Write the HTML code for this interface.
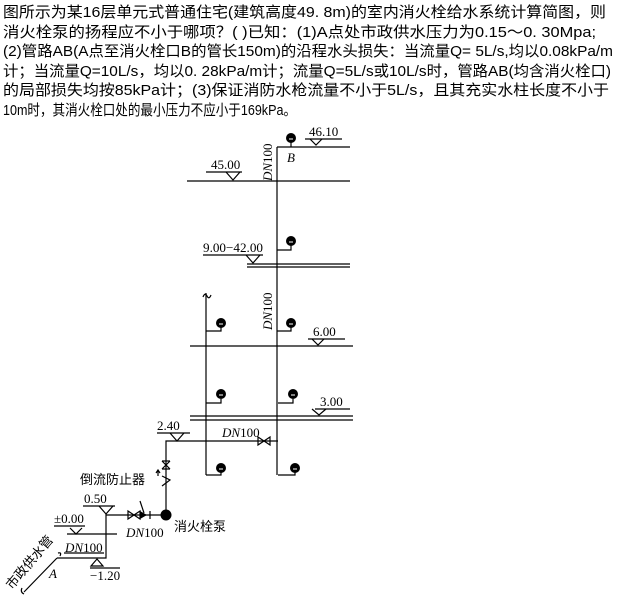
<!DOCTYPE html>
<html><head><meta charset="utf-8"><style>
html,body{margin:0;padding:0;background:#fff;}
svg{display:block;}
.t{font-family:"Liberation Sans","Noto Sans CJK SC",sans-serif;font-size:15px;fill:#000;}
.s{font-family:"Liberation Serif","Noto Serif CJK SC",serif;font-size:13px;fill:#000;}
.i{font-style:italic;}
.c{font-family:"Liberation Sans","Noto Sans CJK SC",sans-serif;font-size:13px;fill:#000;}
</style></head><body>
<svg width="619" height="598" viewBox="0 0 619 598" xmlns="http://www.w3.org/2000/svg">
<g class="t">
<text x="3" y="17" textLength="603" lengthAdjust="spacingAndGlyphs">图所示为某16层单元式普通住宅(建筑高度49. 8m)的室内消火栓给水系统计算简图，则</text>
<text x="3" y="37" textLength="593" lengthAdjust="spacingAndGlyphs">消火栓泵的扬程应不小于哪项？(  )已知：(1)A点处市政供水压力为0.15～0. 30Mpa;</text>
<text x="3" y="56" textLength="610" lengthAdjust="spacingAndGlyphs">(2)管路AB(A点至消火栓口B的管长150m)的沿程水头损失：当流量Q= 5L/s,均以0.08kPa/m</text>
<text x="3" y="76" textLength="608" lengthAdjust="spacingAndGlyphs">计；当流量Q=10L/s，均以0. 28kPa/m计；流量Q=5L/s或10L/s时，管路AB(均含消火栓口)</text>
<text x="3" y="95" textLength="606" lengthAdjust="spacingAndGlyphs">的局部损失均按85kPa计；(3)保证消防水枪流量不小于5L/s，且其充实水柱长度不小于</text>
<text x="3" y="115" textLength="293" lengthAdjust="spacingAndGlyphs">10m时，其消火栓口处的最小压力不应小于169kPa。</text>
</g>
<g stroke="#000" stroke-width="1.2" fill="none">
<path d="M277 147V475 M277 147H350"/>
<path d="M206 293V475"/>
<path d="M187 181H350"/>
<path d="M247 264H350 M247 267H350"/>
<path d="M190 346H353"/>
<path d="M190 416H353 M190 420H353"/>
<path d="M291 147V142"/>
<path d="M277 250H291V245"/>
<path d="M206 331H221V327"/>
<path d="M277 331H291V327"/>
<path d="M206 403H221V399"/>
<path d="M278 403H293V399"/>
<path d="M206 475H221V471"/>
<path d="M278 475H295V471"/>
<path d="M305 139H342"/><path d="M310 139L316 145L322 139"/>
<path d="M206 172H242"/><path d="M226 172L233 180L240 172"/>
<path d="M203 255H263"/><path d="M246 255L253 263L260 255"/>
<path d="M308 339H345"/><path d="M312 339L318 345L324 339"/>
<path d="M315 409H350"/><path d="M312 409L319 415L326 409"/>
<path d="M157 433H190"/><path d="M170 433L177 441L184 433"/>
<path d="M166 515V441H278"/>
<path d="M258 437L264 441L258 445Z M270 437L264 441L270 445Z"/>
<path d="M162 461L166 465L170 461 M162 469L166 465L170 469"/>
<path d="M162 461H170 M162 469H170"/>
<path d="M162 476L170 480L162 486"/>
<path d="M158 476V470 M156 473L158 470L160 473"/>
<path d="M106 515H166"/>
<path d="M128 511L134 515L128 519Z M140 511L134 515L140 519Z"/>
<path d="M150 511V519"/>
<path d="M140 501L144 513"/>
<path d="M83 506H115"/><path d="M99 506L106 514L113 506"/>
<path d="M106 514V558H57"/>
<path d="M54 526H85"/><path d="M67 534H117"/><path d="M70 528L76 534L82 528"/>
<path d="M64 553H104"/>
<path d="M90 568H120"/><path d="M91 566L97 559L103 566Z"/>
<path d="M57 558L24 592"/>
<path d="M58 553Q62 552 60 556 M22 588Q20 592 24 594"/>
<path d="M203 297Q205 292 207 296T211 295"/>
</g>
<g fill="#000">
<path d="M140 511L147 515L140 519Z"/>
<circle cx="166" cy="515" r="5.5"/>
<circle cx="291" cy="138" r="5"/>
<circle cx="291" cy="241" r="5"/>
<circle cx="221" cy="323" r="5"/>
<circle cx="291" cy="323" r="5"/>
<circle cx="221" cy="394" r="5"/>
<circle cx="293" cy="394" r="5"/>
<circle cx="221" cy="468" r="5"/>
<circle cx="295" cy="468" r="5"/>
</g>
<g stroke="#fff" stroke-width="1">
<path d="M289 139H293 M289 242H293 M219 324H223 M289 324H293 M219 395H223 M291 395H295 M219 469H223 M293 469H297"/>
</g>
<g class="s">
<text x="309" y="136">46.10</text>
<text x="287" y="162" class="i">B</text>
<text x="211" y="169">45.00</text>
<text x="203" y="252" textLength="60" lengthAdjust="spacingAndGlyphs">9.00−42.00</text>
<text x="313" y="336">6.00</text>
<text x="320" y="406">3.00</text>
<text x="157" y="430">2.40</text>
<text x="222" y="437"><tspan class="i">DN</tspan>100</text>
<text x="84" y="503">0.50</text>
<text x="54" y="523">±0.00</text>
<text x="126" y="537"><tspan class="i">DN</tspan>100</text>
<text x="65" y="552"><tspan class="i">DN</tspan>100</text>
<text x="90" y="580">−1.20</text>
<text x="49" y="578" class="i">A</text>
<text transform="translate(272,181) rotate(-90)"><tspan class="i">DN</tspan>100</text>
<text transform="translate(272,330) rotate(-90)"><tspan class="i">DN</tspan>100</text>
</g>
<g class="c">
<text x="80" y="484">倒流防止器</text>
<text x="174" y="531">消火栓泵</text>
<text transform="translate(12,590) rotate(-50)">市政供水管</text>
</g>
</svg>
</body></html>
